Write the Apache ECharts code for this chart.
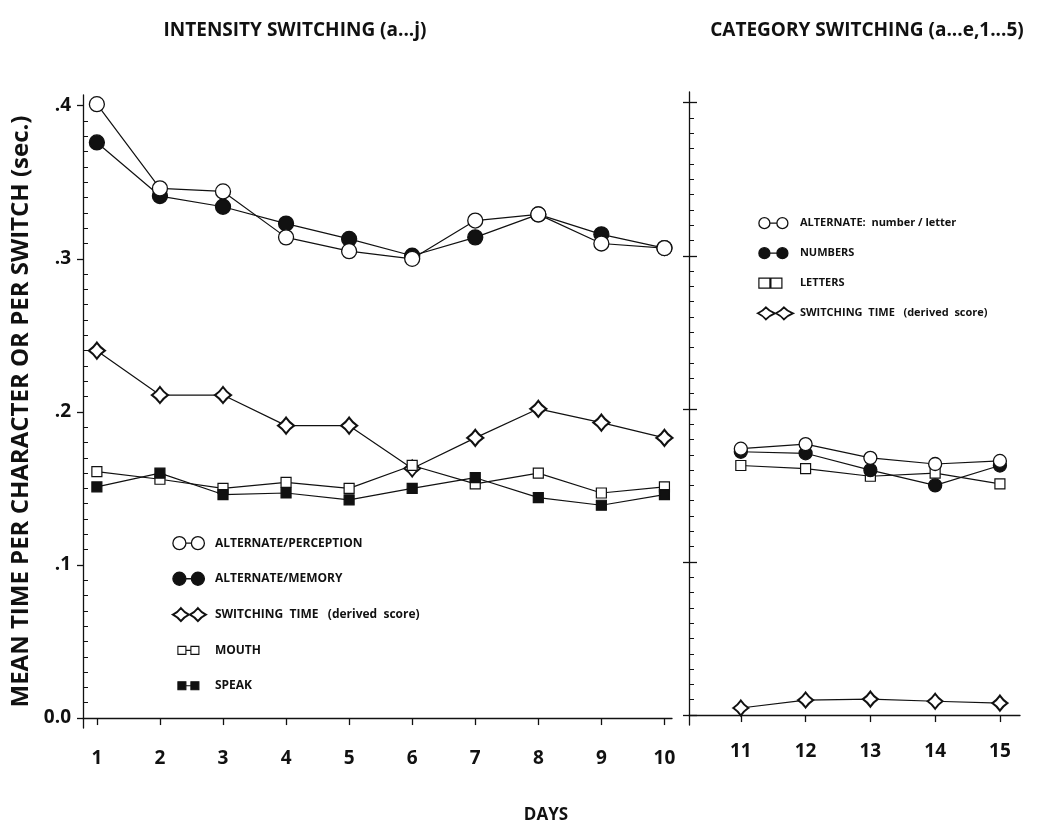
<!DOCTYPE html>
<html>
<head>
<meta charset="utf-8">
<script src="https://cdn.jsdelivr.net/npm/echarts@6/dist/echarts.min.js"></script>
<style>
  html, body { margin: 0; padding: 0; background: #fff; }
  #chart { width: 1046px; height: 824px; }
</style>
</head>
<body>
<div id="chart"></div>
<script>
// intensity switching, days 1-10
const daysA = [1, 2, 3, 4, 5, 6, 7, 8, 9, 10];
const perception = [0.401, 0.346, 0.344, 0.314, 0.305, 0.300, 0.325, 0.329, 0.310, 0.307];
const memory = [0.376, 0.341, 0.334, 0.323, 0.313, 0.302, 0.314, 0.329, 0.316, 0.307];
const switchingA = [0.240, 0.211, 0.211, 0.191, 0.191, 0.163, 0.183, 0.202, 0.193, 0.183];
const mouth = [0.161, 0.156, 0.150, 0.154, 0.150, 0.165, 0.153, 0.160, 0.147, 0.151];
const speak = [0.151, 0.160, 0.146, 0.147, 0.1425, 0.150, 0.157, 0.144, 0.139, 0.146];

// category switching, days 11-15
const daysB = [11, 12, 13, 14, 15];
const alternateB = [0.174, 0.177, 0.168, 0.164, 0.166];
const numbersB = [0.172, 0.171, 0.160, 0.150, 0.163];
const lettersB = [0.163, 0.161, 0.156, 0.158, 0.151];
const switchingB = [0.0046, 0.0098, 0.0104, 0.009, 0.0078];

const yTicks = [0, 0.1, 0.2, 0.3, 0.4];

const INK = '#111';
const FONT = 'Open Sans';
const diamond = 'path://M10,0 Q14,6 20,10 Q14,14 10,20 Q6,14 0,10 Q6,6 10,0 Z';

// legend icons (padded with bare moveTo points so all share one box)
const iconCircles = 'path://M0,0M38,15M1,7.5a6.5,6.5 0 1,0 13,0a6.5,6.5 0 1,0 -13,0ZM14,7.5L19.5,7.5M19.5,7.5a6.5,6.5 0 1,0 13,0a6.5,6.5 0 1,0 -13,0Z';
const iconSquares = 'path://M0,0M38,15M6,3.5h8v8h-8ZM14,7.5L19,7.5M19,3.5h8v8h-8Z';
const iconDiamonds = 'path://M0,0M38,15M9,1Q12,5 17,7.5Q12,10 9,14Q6,10 1,7.5Q6,5 9,1ZM17,7.5L18,7.5M26,1Q29,5 34,7.5Q29,10 26,14Q23,10 18,7.5Q23,5 26,1Z';
const iconCirclesB = 'path://M0,0M38,13M2,6.5a5.5,5.5 0 1,0 11,0a5.5,5.5 0 1,0 -11,0ZM13,6.5L20,6.5M20,6.5a5.5,5.5 0 1,0 11,0a5.5,5.5 0 1,0 -11,0Z';
const iconSquaresB = 'path://M0,0M38,13M2,1.5h11v10h-11ZM13,6.5L14,6.5M14,1.5h11v10h-11Z';
const iconDiamondsB = 'path://M0,0M38,13M9,0.5Q12,4 18,6.5Q12,9 9,12.5Q6,9 1,6.5Q6,4 9,0.5ZM18,6.5L19,6.5M27,0.5Q30,4 36,6.5Q30,9 27,12.5Q24,9 19,6.5Q24,4 27,0.5Z';

function pairs(xs, ys) {
  return xs.map((x, i) => [x, ys[i]]);
}

function lineSeries(name, axisIdx, xs, ys, symbol, size, fill, bw) {
  return {
    name: name,
    type: 'line',
    xAxisIndex: axisIdx,
    yAxisIndex: axisIdx * 2,
    data: pairs(xs, ys),
    symbol: symbol,
    symbolSize: size,
    showAllSymbol: true,
    animation: false,
    lineStyle: { color: INK, width: 1.2 },
    itemStyle: { color: fill, borderColor: INK, borderWidth: bw, opacity: 1 },
    emphasis: { disabled: true },
  };
}

const labelFmt = (v) => (v === 0 ? '0.0' : '.' + Math.round(v * 10));
const tickFont = { color: INK, fontFamily: FONT, fontWeight: 'bold', fontSize: 19 };

function xAxis(grid, min, max, days, margin) {
  return {
    type: 'value',
    gridIndex: grid,
    min: min,
    max: max,
    axisLine: { lineStyle: { color: INK, width: 1.3 } },
    axisTick: { customValues: days, length: 7, lineStyle: { color: INK, width: 1.3 } },
    axisLabel: { customValues: days, margin: margin, ...tickFont },
    splitLine: { show: false },
  };
}

function yMain(grid, showLabels) {
  return {
    type: 'value',
    gridIndex: grid,
    position: 'left',
    min: -0.0065,
    max: 0.407,
    axisLine: { show: true, lineStyle: { color: INK, width: 1.3 } },
    axisTick: { customValues: yTicks, length: 6, lineStyle: { color: INK, width: 1.3 } },
    axisLabel: { show: showLabels, customValues: yTicks, formatter: labelFmt, margin: 12, ...tickFont },
    splitLine: { show: false },
  };
}

function yMinor(grid, innerMajor) {
  return {
    type: 'value',
    gridIndex: grid,
    position: 'left',
    min: -0.0065,
    max: 0.407,
    axisLine: { show: false },
    axisTick: { show: innerMajor, inside: true, customValues: yTicks, length: 8, lineStyle: { color: INK, width: 1.3 } },
    minorTick: { show: true, splitNumber: 10, length: 5, lineStyle: { color: INK, width: 1 } },
    axisLabel: { show: false },
    splitLine: { show: false },
  };
}

function legendText(size) {
  return {
    color: INK,
    fontFamily: FONT,
    fontWeight: 'bold',
    fontSize: size,
    rich: {
      a: { fontFamily: FONT, fontWeight: 'bold', fontSize: size, color: INK },
      b: { fontFamily: FONT, fontWeight: 'bold', fontSize: size, color: INK },
    },
  };
}

function legendFmt(name) {
  if (name.startsWith('SWITCHING')) return '{a|SWITCHING  TIME}   {b|(derived  score)}';
  if (name.startsWith('ALTERNATE:')) return '{a|ALTERNATE:}  {b|number / letter}';
  return '{a|' + name + '}';
}

const hollow = (bw) => ({ color: '#fff', borderColor: INK, borderWidth: bw });
const solid = (bw) => ({ color: INK, borderColor: INK, borderWidth: bw });

const SW = 'SWITCHING TIME (derived score)';
const titleFont = { color: INK, fontFamily: FONT, fontWeight: 'bold', fontSize: 19 };

const option = {
  backgroundColor: '#fff',
  animation: false,
  title: [
    { text: 'INTENSITY SWITCHING (a...j)', left: 290, top: 16, textAlign: 'center', textStyle: titleFont },
    { text: 'CATEGORY SWITCHING (a...e,1...5)', left: 862, top: 16, textAlign: 'center', textStyle: titleFont },
    { text: 'DAYS', left: 541, top: 802, textAlign: 'center', textStyle: Object.assign({}, titleFont, { fontSize: 17 }) },
  ],
  grid: [
    { left: 83, right: 374, top: 95, bottom: 96 },
    { left: 689, right: 26, top: 92, bottom: 99 },
  ],
  xAxis: [
    xAxis(0, 0.78, 10.12, daysA, 21),
    xAxis(1, 10.2, 15.31, daysB, 17),
  ],
  yAxis: [
    Object.assign(yMain(0, true), {
      name: 'MEAN TIME PER CHARACTER OR PER SWITCH (sec.)',
      nameLocation: 'middle',
      nameGap: 46,
      nameTextStyle: { color: INK, fontFamily: FONT, fontWeight: 'bold', fontSize: 24 },
    }),
    yMinor(0, false),
    yMain(1, false),
    yMinor(1, true),
  ],
  legend: [
    {
      orient: 'vertical',
      left: 166,
      top: 530,
      itemWidth: 38,
      itemHeight: 15,
      itemGap: 19.3,
      selectedMode: false,
      formatter: legendFmt,
      textStyle: legendText(12),
      data: [
        { name: 'ALTERNATE/PERCEPTION', icon: iconCircles, itemStyle: hollow(1.3) },
        { name: 'ALTERNATE/MEMORY', icon: iconCircles, itemStyle: solid(1.3) },
        { name: SW, icon: iconDiamonds, itemStyle: hollow(1.8) },
        { name: 'MOUTH', icon: iconSquares, itemStyle: hollow(1.1) },
        { name: 'SPEAK', icon: iconSquares, itemStyle: solid(1.1) },
      ],
    },
    {
      orient: 'vertical',
      left: 751,
      top: 211,
      itemWidth: 38,
      itemHeight: 13,
      itemGap: 15.7,
      selectedMode: false,
      formatter: legendFmt,
      textStyle: legendText(11),
      data: [
        { name: 'ALTERNATE: number/letter', icon: iconCirclesB, itemStyle: hollow(1.3) },
        { name: 'NUMBERS', icon: iconCirclesB, itemStyle: solid(1.3) },
        { name: 'LETTERS', icon: iconSquaresB, itemStyle: hollow(1.2) },
        { name: SW, icon: iconDiamondsB, itemStyle: hollow(1.8) },
      ],
    },
  ],
  series: [
    lineSeries(SW, 0, daysA, switchingA, diamond, 16, '#fff', 2),
    lineSeries('MOUTH', 0, daysA, mouth, 'rect', 10, '#fff', 1.2),
    lineSeries('SPEAK', 0, daysA, speak, 'rect', 10, INK, 1.2),
    lineSeries('ALTERNATE/MEMORY', 0, daysA, memory, 'circle', 15, INK, 1.3),
    lineSeries('ALTERNATE/PERCEPTION', 0, daysA, perception, 'circle', 15, '#fff', 1.3),
    lineSeries(SW, 1, daysB, switchingB, diamond, 15, '#fff', 2),
    lineSeries('LETTERS', 1, daysB, lettersB, 'rect', 10, '#fff', 1.2),
    lineSeries('NUMBERS', 1, daysB, numbersB, 'circle', 13, INK, 1.3),
    lineSeries('ALTERNATE: number/letter', 1, daysB, alternateB, 'circle', 13, '#fff', 1.3),
  ],
};

const chart = echarts.init(document.getElementById('chart'), null, { renderer: 'canvas' });
chart.setOption(option);
</script>
</body>
</html>
